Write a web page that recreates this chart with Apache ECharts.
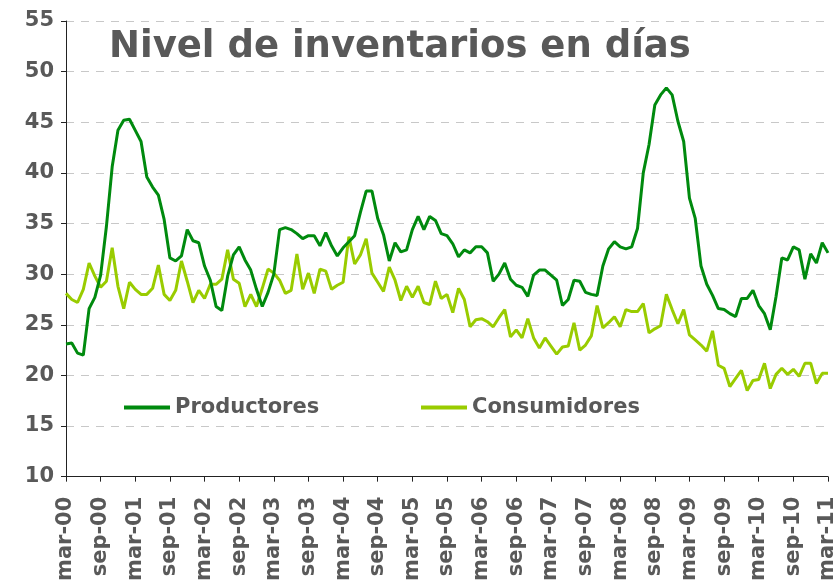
<!DOCTYPE html>
<html>
<head>
<meta charset="utf-8">
<script src="https://cdn.jsdelivr.net/npm/echarts@6/dist/echarts.min.js"></script>
<style>
  html, body { margin: 0; padding: 0; background: #fff; }
  #chart { width: 839px; height: 584px; }
</style>
</head>
<body>
<div id="chart"></div>
<script>
// monthly data, mar-00 .. mar-11
const meses = ['ene', 'feb', 'mar', 'abr', 'may', 'jun', 'jul', 'ago', 'sep', 'oct', 'nov', 'dic'];
const startYear = 2000, startMonth = 2, nMonths = 133;

const productores = [
  23.1, 23.2, 22.2, 22.0, 26.6, 27.7, 29.9, 34.7, 40.6, 44.2,
  45.2, 45.3, 44.2, 43.1, 39.6, 38.6, 37.8, 35.4, 31.6, 31.3,
  31.8, 34.4, 33.3, 33.1, 30.8, 29.4, 26.8, 26.4, 29.8, 31.9,
  32.7, 31.4, 30.4, 28.5, 26.8, 28.2, 30.0, 34.4, 34.6, 34.4,
  34.0, 33.5, 33.8, 33.8, 32.8, 34.1, 32.8, 31.8, 32.6, 33.2,
  33.8, 36.1, 38.2, 38.2, 35.5, 33.9, 31.3, 33.1, 32.2, 32.4,
  34.4, 35.7, 34.4, 35.7, 35.3, 34.0, 33.8, 33.0, 31.7, 32.4,
  32.1, 32.7, 32.7, 32.1, 29.3, 30.0, 31.1, 29.5, 28.9, 28.7,
  27.8, 29.9, 30.4, 30.4, 29.9, 29.4, 26.9, 27.5, 29.4, 29.3,
  28.2, 28.0, 27.9, 30.8, 32.5, 33.2, 32.7, 32.5, 32.7, 34.5,
  40.0, 42.8, 46.7, 47.7, 48.4, 47.7, 45.1, 43.1, 37.5, 35.5,
  30.8, 29.0, 27.9, 26.6, 26.5, 26.1, 25.8, 27.6, 27.6, 28.4,
  26.9, 26.1, 24.5, 27.8, 31.6, 31.4, 32.7, 32.4, 29.5, 32.0,
  31.1, 33.1, 32.1
];

const consumidores = [
  28.1, 27.5, 27.2, 28.5, 31.1, 29.8, 28.7, 29.3, 32.6, 28.8,
  26.6, 29.2, 28.5, 28.0, 28.0, 28.6, 30.9, 28.0, 27.4, 28.4,
  31.3, 29.3, 27.2, 28.4, 27.6, 29.0,
  29.0, 29.5, 32.4, 29.5, 29.1, 26.8, 28.0, 26.8, 28.6, 30.5,
  30.1, 29.4, 28.1, 28.4, 32.0, 28.5, 30.1, 28.1, 30.5, 30.3,
  28.5, 28.9, 29.2, 33.7, 31.0, 31.9, 33.5,
  30.1, 29.2, 28.3, 30.7, 29.4, 27.4, 28.8, 27.7, 28.8, 27.2,
  27.0, 29.3, 27.6, 28.0, 26.2, 28.6, 27.5, 24.8, 25.5, 25.6,
  25.3, 24.8, 25.7, 26.5, 23.8, 24.5, 23.7,
  25.6, 23.7, 22.7, 23.7, 22.9, 22.1, 22.8, 22.9, 25.2, 22.5,
  23.0, 23.9, 26.9, 24.7, 25.2, 25.8, 24.8, 26.5, 26.3, 26.3,
  27.1, 24.2, 24.6, 24.9, 28.0, 26.5, 25.1,
  26.5, 24.0, 23.5, 23.0, 22.4, 24.4, 21.0, 20.7, 18.9, 19.7,
  20.5, 18.5, 19.5, 19.6, 21.2, 18.7, 20.1, 20.7, 20.1, 20.6,
  19.9, 21.2, 21.2, 19.2, 20.2, 20.2
];

const categorias = [];
for (let i = 0; i < nMonths; i++) {
  const mm = (startMonth + i) % 12;
  const yy = startYear + Math.floor((startMonth + i) / 12);
  categorias.push(meses[mm] + '-' + String(yy % 100).padStart(2, '0'));
}

const gris = '#595959';
const fuente = 'DejaVu Sans';
const verde = '#008a0e';
const lima = '#99cc00';

const legendText = { color: gris, fontFamily: fuente, fontWeight: 'bold', fontSize: 21 };

const chart = echarts.init(document.getElementById('chart'));
chart.setOption({
  animation: false,
  title: {
    text: 'Nivel de inventarios en días',
    left: 104,
    top: 24,
    textStyle: { color: gris, fontFamily: fuente, fontWeight: 'bold', fontSize: 37 }
  },
  legend: [
    {
      data: ['Productores'],
      left: 119,
      top: 392,
      icon: 'rect',
      itemWidth: 46,
      itemHeight: 4,
      itemGap: 0,
      textStyle: legendText
    },
    {
      data: ['Consumidores'],
      left: 416,
      top: 392,
      icon: 'rect',
      itemWidth: 46,
      itemHeight: 4,
      itemGap: 0,
      textStyle: legendText
    }
  ],
  grid: { left: 66, right: 11, top: 21, bottom: 106 },
  xAxis: {
    type: 'category',
    data: categorias,
    boundaryGap: false,
    axisLine: { lineStyle: { color: '#222', width: 1 } },
    axisTick: { interval: 5, length: 5, lineStyle: { color: '#222' } },
    axisLabel: {
      interval: 5,
      rotate: 90,
      margin: 20,
      color: gris,
      fontFamily: fuente,
      fontWeight: 'bold',
      fontSize: 21
    },
    splitLine: { show: false }
  },
  yAxis: {
    type: 'value',
    min: 10,
    max: 55,
    interval: 5,
    axisLine: { show: true, lineStyle: { color: '#222', width: 1 } },
    axisTick: { show: true, length: 5, lineStyle: { color: '#222' } },
    axisLabel: { color: gris, fontFamily: fuente, fontWeight: 'bold', fontSize: 21, margin: 12 },
    splitLine: { lineStyle: { color: '#c8c8c8', type: [8, 7], width: 1 } }
  },
  series: [
    {
      name: 'Productores',
      type: 'line',
      data: productores,
      showSymbol: false,
      lineStyle: { color: verde, width: 3 },
      itemStyle: { color: verde },
      z: 3
    },
    {
      name: 'Consumidores',
      type: 'line',
      data: consumidores,
      showSymbol: false,
      lineStyle: { color: lima, width: 3 },
      itemStyle: { color: lima },
      z: 2
    }
  ]
});
</script>
</body>
</html>
